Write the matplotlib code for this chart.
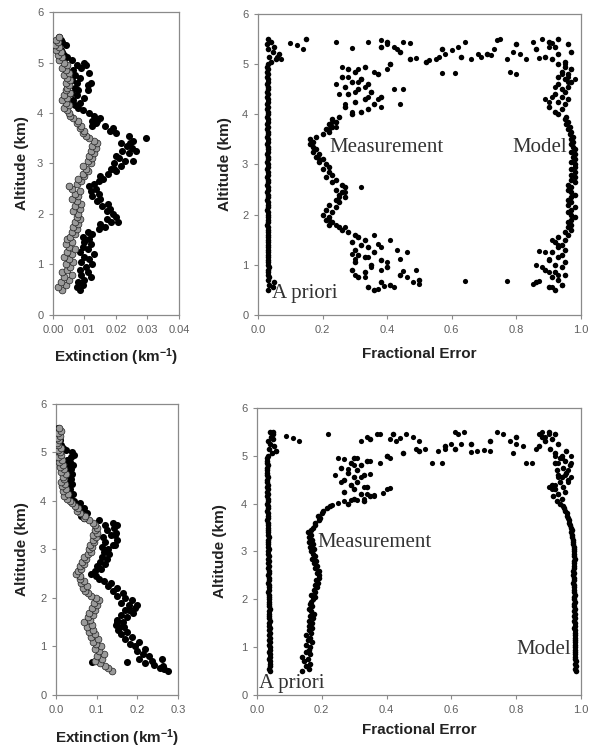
#! /usr/bin/env python

import matplotlib
matplotlib.use('Agg')
from matplotlib import pyplot as plt
from matplotlib.ticker import FormatStrFormatter

# altitude levels (km) shared by every profile
ALT = [0.50, 0.55, 0.60, 0.65, 0.70, 0.75, 0.80, 0.85, 0.90, 0.95,
       1.00, 1.05, 1.10, 1.15, 1.20, 1.25, 1.30, 1.35, 1.40, 1.45,
       1.50, 1.55, 1.60, 1.65, 1.70, 1.75, 1.80, 1.85, 1.90, 1.95,
       2.00, 2.05, 2.10, 2.15, 2.20, 2.25, 2.30, 2.35, 2.40, 2.45,
       2.50, 2.55, 2.60, 2.65, 2.70, 2.75, 2.80, 2.85, 2.90, 2.95,
       3.00, 3.05, 3.10, 3.15, 3.20, 3.25, 3.30, 3.35, 3.40, 3.45,
       3.50, 3.55, 3.60, 3.65, 3.70, 3.75, 3.80, 3.85, 3.90, 3.95,
       4.00, 4.05, 4.10, 4.15, 4.20, 4.25, 4.30, 4.35, 4.40, 4.45,
       4.50, 4.55, 4.60, 4.65, 4.70, 4.75, 4.80, 4.85, 4.90, 4.95,
       5.00, 5.05, 5.10, 5.15, 5.20, 5.25, 5.30, 5.35, 5.40, 5.45,
       5.50]

# ---- case 1 : extinction profiles ----
ext1_dark = [0.0085, 0.0075, 0.0095, 0.0080, 0.0100, 0.0120, 0.0090, 0.0110, 0.0085, 0.0105,
             0.0125, 0.0090, 0.0115, 0.0100, 0.0130, 0.0085, 0.0110, 0.0095, 0.0120, 0.0100,
             0.0115, 0.0095, 0.0125, 0.0110, 0.0145, 0.0165, 0.0150, 0.0185, 0.0170, 0.0200,
             0.0190, 0.0170, 0.0180, 0.0155, 0.0175, 0.0140, 0.0150, 0.0125, 0.0145, 0.0120,
             0.0135, 0.0115, 0.0130, 0.0145, 0.0160, 0.0150, 0.0175, 0.0200, 0.0185, 0.0215,
             0.0195, 0.0230, 0.0210, 0.0200, 0.0240, 0.0220, 0.0250, 0.0235, 0.0215, 0.0255,
             0.0295, 0.0240, 0.0200, 0.0180, 0.0190, 0.0165, 0.0135, 0.0125, 0.0150, 0.0130,
             0.0115, 0.0095, 0.0080, 0.0070, 0.0085, 0.0065, 0.0100, 0.0075, 0.0060, 0.0080,
             0.0070, 0.0110, 0.0075, 0.0060, 0.0085, 0.0070, 0.0115, 0.0065, 0.0090, 0.0075,
             0.0100, 0.0060, 0.0045, 0.0035, 0.0030, 0.0025, 0.0020, 0.0040, 0.0030, 0.0025,
             0.0020]
ext1_light = [0.0030, 0.0015, 0.0040, 0.0025, 0.0050, 0.0035, 0.0060, 0.0030, 0.0045, 0.0055,
              0.0040, 0.0065, 0.0050, 0.0035, 0.0060, 0.0045, 0.0070, 0.0050, 0.0040, 0.0060,
              0.0045, 0.0055, 0.0070, 0.0060, 0.0075, 0.0065, 0.0080, 0.0070, 0.0085, 0.0075,
              0.0080, 0.0065, 0.0085, 0.0070, 0.0090, 0.0075, 0.0060, 0.0080, 0.0070, 0.0085,
              0.0060, 0.0050, 0.0075, 0.0090, 0.0080, 0.0100, 0.0095, 0.0110, 0.0105, 0.0095,
              0.0120, 0.0110, 0.0125, 0.0115, 0.0130, 0.0120, 0.0135, 0.0125, 0.0140, 0.0130,
              0.0115, 0.0105, 0.0095, 0.0100, 0.0085, 0.0090, 0.0075, 0.0080, 0.0065, 0.0055,
              0.0050, 0.0045, 0.0035, 0.0050, 0.0040, 0.0030, 0.0045, 0.0035, 0.0055, 0.0040,
              0.0045, 0.0050, 0.0040, 0.0055, 0.0045, 0.0035, 0.0050, 0.0040, 0.0030, 0.0045,
              0.0035, 0.0020, 0.0030, 0.0015, 0.0025, 0.0010, 0.0020, 0.0005, 0.0015, 0.0010,
              0.0020]
ext1_dark_x = [0.0265, 0.0255, 0.0245, 0.0120, 0.0110, 0.0105, 0.0140, 0.0125, 0.0205, 0.0195]
ext1_dark_alt = [3.25, 3.05, 3.40, 4.60, 4.45, 4.95, 3.85, 3.75, 1.85, 2.90]

# ---- case 1 : fractional errors ----
apriori1 = [0.032, 0.045, 0.034, 0.050, 0.031, 0.033, 0.030, 0.032, 0.031, 0.033,
            0.031, 0.032, 0.030, 0.032, 0.031, 0.030, 0.032, 0.031, 0.030, 0.032,
            0.031, 0.030, 0.032, 0.031, 0.030, 0.031, 0.029, 0.031, 0.030, 0.031,
            0.030, 0.031, 0.029, 0.030, 0.031, 0.030, 0.029, 0.031, 0.030, 0.029,
            0.030, 0.031, 0.029, 0.030, 0.031, 0.029, 0.030, 0.031, 0.029, 0.030,
            0.031, 0.029, 0.030, 0.031, 0.029, 0.030, 0.031, 0.030, 0.029, 0.030,
            0.031, 0.029, 0.030, 0.031, 0.029, 0.030, 0.029, 0.031, 0.030, 0.029,
            0.030, 0.031, 0.029, 0.030, 0.028, 0.030, 0.031, 0.029, 0.030, 0.029,
            0.030, 0.031, 0.029, 0.030, 0.031, 0.029, 0.030, 0.028, 0.030, 0.029,
            0.030, 0.040, 0.055, 0.035, 0.065, 0.045, 0.030, 0.050, 0.028, 0.040,
            0.030]
meas1 = [0.36, 0.34, 0.41, 0.38, 0.50, 0.31, 0.44, 0.33, 0.29, 0.40,
         0.35, 0.30, 0.38, 0.33, 0.31, 0.36, 0.30, 0.34, 0.32, 0.29,
         0.33, 0.31, 0.30, 0.28, 0.26, 0.25, 0.22, 0.23, 0.21, 0.22,
         0.20, 0.23, 0.21, 0.24, 0.22, 0.25, 0.24, 0.27, 0.25, 0.26,
         0.24, 0.27, 0.26, 0.23, 0.24, 0.21, 0.23, 0.22, 0.20, 0.22,
         0.21, 0.19, 0.20, 0.18, 0.19, 0.17, 0.18, 0.17, 0.16, 0.17,
         0.16, 0.18, 0.20, 0.22, 0.21, 0.23, 0.22, 0.24, 0.23, 0.25,
         0.29, 0.32, 0.34, 0.27, 0.36, 0.30, 0.33, 0.38, 0.28, 0.35,
         0.31, 0.27, 0.34, 0.29, 0.32, 0.26, 0.37, 0.30, 0.28, 0.33,
         0.41, 0.52, 0.47, 0.63, 0.71, 0.44, 0.57, 0.38, 0.80, 0.40,
         0.15]
meas1_x = [0.64, 0.77, 0.50, 0.48, 0.46, 0.42, 0.39, 0.37, 0.45, 0.49,
           0.30, 0.35, 0.40, 0.44, 0.46, 0.43, 0.38, 0.41, 0.37, 0.29,
           0.34, 0.36, 0.31, 0.33, 0.38, 0.30, 0.32, 0.27, 0.25, 0.22,
           0.24, 0.27, 0.21, 0.19, 0.22, 0.24, 0.23,
           0.24, 0.26, 0.28, 0.31, 0.33, 0.35, 0.37, 0.42, 0.45, 0.44,
           0.40, 0.41, 0.36, 0.31, 0.27, 0.25, 0.29, 0.32, 0.34, 0.38, 0.30,
           0.10, 0.12, 0.14, 0.07, 0.06, 0.24, 0.29, 0.34, 0.38, 0.40,
           0.42, 0.45, 0.47, 0.43, 0.49, 0.53, 0.56, 0.58, 0.60, 0.62,
           0.64, 0.66, 0.69, 0.72, 0.74, 0.75, 0.77, 0.79, 0.81, 0.83,
           0.85, 0.87, 0.88, 0.90, 0.91, 0.57, 0.61, 0.78, 0.80, 0.68,
           0.55, 0.73]
meas1_alt = [0.68, 0.68, 0.62, 0.65, 0.75, 0.55, 0.58, 0.52, 0.87, 0.89,
             0.80, 0.95, 1.05, 1.12, 1.25, 1.30, 1.35, 1.50, 1.42, 1.22,
             1.15, 1.60, 1.55, 0.75, 0.90, 1.12, 2.55, 2.45, 2.35, 1.90,
             1.80, 1.75, 2.10, 3.10, 3.70, 3.75, 3.85,
             4.60, 4.95, 4.75, 4.65, 4.55, 4.45, 4.30, 4.50, 4.50, 4.20,
             4.90, 5.00, 4.85, 4.90, 4.20, 4.40, 4.05, 4.70, 4.35, 4.15, 4.45,
             5.42, 5.38, 5.30, 5.10, 5.15, 5.45, 5.32, 5.45, 5.48, 5.40,
             5.35, 5.45, 5.42, 5.30, 5.12, 5.08, 5.15, 5.20, 5.28, 5.35,
             5.45, 5.10, 5.15, 5.18, 5.48, 5.50, 5.10, 5.25, 5.20, 5.10,
             5.45, 5.12, 5.50, 5.35, 5.42, 4.82, 4.82, 4.85, 4.80, 5.20,
             5.10, 5.30]
model1 = [0.92, 0.90, 0.94, 0.86, 0.93, 0.91, 0.95, 0.92, 0.89, 0.94,
          0.92, 0.95, 0.90, 0.93, 0.94, 0.91, 0.95, 0.93, 0.94, 0.92,
          0.95, 0.93, 0.96, 0.95, 0.97, 0.96, 0.97, 0.96, 0.97, 0.98,
          0.97, 0.96, 0.97, 0.98, 0.96, 0.97, 0.96, 0.97, 0.98, 0.97,
          0.96, 0.97, 0.96, 0.98, 0.97, 0.98, 0.97, 0.98, 0.97, 0.98,
          0.98, 0.97, 0.98, 0.975, 0.98, 0.97, 0.98, 0.975, 0.97, 0.975,
          0.97, 0.975, 0.965, 0.97, 0.96, 0.965, 0.955, 0.96, 0.95, 0.955,
          0.93, 0.92, 0.94, 0.90, 0.95, 0.93, 0.96, 0.94, 0.92, 0.95,
          0.94, 0.96, 0.93, 0.97, 0.95, 0.93, 0.96, 0.94, 0.97, 0.95,
          0.93, 0.95, 0.91, 0.89, 0.93, 0.97, 0.86, 0.92, 0.96, 0.90,
          0.93]
model1_x = [0.86, 0.88, 0.89, 0.87, 0.90, 0.85, 0.87, 0.91, 0.94, 0.93,
            0.90, 0.91, 0.93, 0.89, 0.91, 0.90, 0.92, 0.96, 0.94, 0.97,
            0.96, 0.98, 0.95]
model1_alt = [1.00, 0.95, 1.25, 1.28, 1.12, 0.62, 0.68, 0.55, 0.60, 0.80,
              0.85, 1.50, 1.40, 4.30, 4.35, 4.25, 4.55, 4.65, 4.80, 4.90,
              4.75, 4.70, 5.00]

# ---- case 2 : extinction profiles ----
ext2_dark = [0.275, 0.255, 0.262, 0.220, 0.235, 0.205, 0.228, 0.215, 0.200, 0.220,
             0.195, 0.182, 0.205, 0.170, 0.188, 0.160, 0.175, 0.152, 0.168, 0.148,
             0.165, 0.150, 0.175, 0.160, 0.190, 0.170, 0.195, 0.180, 0.160, 0.188,
             0.170, 0.150, 0.165, 0.140, 0.150, 0.128, 0.135, 0.118, 0.105, 0.098,
             0.085, 0.095, 0.110, 0.100, 0.120, 0.108, 0.125, 0.112, 0.130, 0.118,
             0.128, 0.112, 0.140, 0.120, 0.150, 0.115, 0.135, 0.148, 0.125, 0.142,
             0.120, 0.140, 0.105, 0.070, 0.062, 0.075, 0.058, 0.068, 0.050, 0.060,
             0.045, 0.038, 0.030, 0.042, 0.025, 0.035, 0.028, 0.040, 0.030, 0.036,
             0.032, 0.040, 0.027, 0.036, 0.030, 0.042, 0.034, 0.028, 0.038, 0.044,
             0.040, 0.025, 0.018, 0.012, 0.008, 0.010, 0.006, 0.008, 0.004, 0.006,
             0.005]
ext2_light = [0.137, 0.128, 0.120, 0.108, 0.095, 0.112, 0.100, 0.118, 0.105, 0.095,
              0.110, 0.098, 0.090, 0.104, 0.085, 0.096, 0.080, 0.092, 0.075, 0.088,
              0.070, 0.084, 0.078, 0.090, 0.082, 0.095, 0.088, 0.100, 0.094, 0.105,
              0.098, 0.085, 0.078, 0.072, 0.066, 0.075, 0.062, 0.068, 0.058, 0.060,
              0.048, 0.055, 0.062, 0.058, 0.068, 0.064, 0.074, 0.070, 0.078, 0.085,
              0.080, 0.088, 0.084, 0.094, 0.090, 0.098, 0.092, 0.100, 0.095, 0.102,
              0.096, 0.090, 0.080, 0.068, 0.072, 0.060, 0.052, 0.055, 0.046, 0.040,
              0.034, 0.026, 0.020, 0.030, 0.018, 0.025, 0.015, 0.022, 0.012, 0.020,
              0.016, 0.024, 0.012, 0.020, 0.010, 0.018, 0.008, 0.014, 0.006, 0.012,
              0.010, 0.004, 0.012, 0.006, 0.002, 0.008, 0.003, 0.010, 0.005, 0.012,
              0.008]
ext2_dark_x = [0.260, 0.175, 0.088, 0.265, 0.240, 0.150, 0.155, 0.200, 0.180, 0.145,
               0.150, 0.145]
ext2_dark_alt = [0.75, 0.68, 0.68, 0.53, 0.62, 1.50, 1.40, 1.85, 1.75, 3.30,
                 3.50, 3.10]

# ---- case 2 : fractional errors ----
apriori2 = [0.040, 0.038, 0.041, 0.039, 0.040, 0.038, 0.041, 0.039, 0.038, 0.040,
            0.039, 0.038, 0.040, 0.037, 0.039, 0.038, 0.040, 0.037, 0.039, 0.038,
            0.037, 0.039, 0.038, 0.036, 0.038, 0.037, 0.039, 0.036, 0.038, 0.037,
            0.036, 0.038, 0.037, 0.035, 0.037, 0.036, 0.038, 0.035, 0.037, 0.036,
            0.035, 0.037, 0.036, 0.034, 0.036, 0.035, 0.037, 0.034, 0.036, 0.035,
            0.034, 0.036, 0.035, 0.033, 0.035, 0.034, 0.036, 0.033, 0.035, 0.034,
            0.033, 0.035, 0.034, 0.032, 0.034, 0.033, 0.035, 0.032, 0.034, 0.033,
            0.032, 0.034, 0.033, 0.031, 0.033, 0.032, 0.034, 0.031, 0.033, 0.032,
            0.031, 0.033, 0.032, 0.030, 0.032, 0.031, 0.033, 0.030, 0.032, 0.031,
            0.033, 0.045, 0.060, 0.038, 0.052, 0.040, 0.035, 0.048, 0.042, 0.050,
            0.040]
meas2 = [0.140, 0.160, 0.150, 0.165, 0.145, 0.158, 0.140, 0.165, 0.150, 0.160,
         0.165, 0.150, 0.170, 0.158, 0.165, 0.152, 0.168, 0.160, 0.170, 0.162,
         0.170, 0.160, 0.172, 0.165, 0.175, 0.168, 0.160, 0.170, 0.165, 0.168,
         0.172, 0.178, 0.168, 0.180, 0.175, 0.185, 0.180, 0.188, 0.182, 0.190,
         0.192, 0.185, 0.190, 0.178, 0.185, 0.175, 0.182, 0.170, 0.180, 0.172,
         0.168, 0.175, 0.165, 0.172, 0.160, 0.170, 0.162, 0.168, 0.158, 0.166,
         0.172, 0.180, 0.178, 0.190, 0.195, 0.188, 0.200, 0.205, 0.215, 0.225,
         0.280, 0.330, 0.300, 0.350, 0.320, 0.270, 0.300, 0.340, 0.290, 0.310,
         0.270, 0.300, 0.330, 0.280, 0.310, 0.260, 0.320, 0.290, 0.340, 0.300,
         0.400, 0.450, 0.500, 0.610, 0.580, 0.660, 0.720, 0.350, 0.800, 0.420,
         0.050]
meas2_x = [0.23, 0.25, 0.27, 0.29, 0.31, 0.33, 0.36, 0.39, 0.40, 0.41,
           0.24, 0.26, 0.28, 0.29, 0.30, 0.32, 0.33, 0.35, 0.31, 0.27,
           0.25, 0.38, 0.40, 0.41, 0.35, 0.34, 0.36,
           0.09, 0.11, 0.13, 0.06, 0.22, 0.32, 0.34, 0.37, 0.38, 0.41,
           0.43, 0.44, 0.46, 0.48, 0.50, 0.49, 0.52, 0.54, 0.57, 0.56,
           0.58, 0.60, 0.61, 0.62, 0.64, 0.63, 0.66, 0.68, 0.70, 0.72,
           0.74, 0.76, 0.78, 0.79, 0.80, 0.82, 0.83, 0.85, 0.86, 0.87,
           0.88, 0.89, 0.90]
meas2_alt = [3.98, 4.02, 4.05, 4.08, 4.08, 4.10, 4.15, 4.22, 4.30, 4.32,
             4.60, 4.45, 4.72, 4.40, 4.80, 4.55, 4.35, 4.62, 4.95, 4.93,
             4.95, 4.85, 5.00, 4.95, 4.90, 4.20, 4.18,
             5.42, 5.38, 5.30, 5.10, 5.45, 5.30, 5.40, 5.45, 5.45, 5.35,
             5.30, 5.38, 5.45, 5.40, 5.30, 5.15, 5.15, 4.85, 4.85, 5.10,
             5.15, 5.25, 5.50, 5.45, 5.50, 5.25, 5.08, 5.10, 5.12, 5.10,
             5.50, 5.45, 5.30, 5.05, 5.25, 5.20, 4.85, 4.85, 5.15, 5.45,
             5.50, 5.40, 5.45]
model2 = [0.985, 0.983, 0.986, 0.982, 0.984, 0.981, 0.983, 0.980, 0.982, 0.981,
          0.982, 0.980, 0.983, 0.981, 0.980, 0.982, 0.980, 0.981, 0.979, 0.981,
          0.980, 0.979, 0.981, 0.978, 0.980, 0.979, 0.981, 0.979, 0.978, 0.980,
          0.979, 0.977, 0.980, 0.978, 0.979, 0.977, 0.978, 0.976, 0.978, 0.977,
          0.975, 0.977, 0.976, 0.978, 0.977, 0.979, 0.978, 0.980, 0.979, 0.978,
          0.979, 0.978, 0.977, 0.976, 0.975, 0.974, 0.972, 0.973, 0.970, 0.971,
          0.968, 0.966, 0.964, 0.962, 0.960, 0.958, 0.956, 0.952, 0.948, 0.944,
          0.935, 0.925, 0.940, 0.915, 0.930, 0.950, 0.920, 0.945, 0.910, 0.935,
          0.960, 0.940, 0.930, 0.955, 0.925, 0.945, 0.965, 0.920, 0.950, 0.935,
          0.940, 0.920, 0.955, 0.905, 0.870, 0.930, 0.890, 0.910, 0.880, 0.920,
          0.900]
model2_x = [0.91, 0.92, 0.93, 0.95, 0.96, 0.97, 0.97, 0.92, 0.94, 0.90,
            0.93, 0.96, 0.97, 0.93]
model2_alt = [4.30, 4.40, 4.20, 4.60, 4.70, 4.85, 5.00, 5.00, 4.95, 4.35,
              4.55, 4.45, 4.55, 4.85]

TICK_COLOR = '#606060'
SPINE_COLOR = '#8a8a8a'


def setup_axes(ax, xlim, xticks, xfmt, xlabel, ylab_x, xlab_y):
    ax.set_xlim(*xlim)
    ax.set_ylim(0, 6)
    ax.set_xticks(xticks)
    ax.set_yticks([0, 1, 2, 3, 4, 5, 6])
    ax.xaxis.set_major_formatter(FormatStrFormatter(xfmt))
    for sp in ax.spines.values():
        sp.set_color(SPINE_COLOR)
        sp.set_linewidth(0.9)
    ax.tick_params(direction='out', length=3, width=0.8, color=SPINE_COLOR,
                   labelcolor=TICK_COLOR, labelsize=8, pad=4)
    ax.set_ylabel('Altitude (km)', fontsize=11, fontweight='bold',
                  color='#222222', va='center', ha='center')
    ax.set_xlabel(xlabel, fontsize=11, fontweight='bold', color='#222222',
                  va='center', ha='center')
    ax.yaxis.set_label_coords(ylab_x, 0.5)
    ax.xaxis.set_label_coords(0.5, xlab_y)


def dark_dots(ax, x, y, s=26):
    ax.scatter(x, y, s=s, c='black', linewidths=0, zorder=3)


def light_dots(ax, x, y, s=24):
    ax.scatter(x, y, s=s, c='#9a9a9a', edgecolors='#1e1e1e',
               linewidths=0.5, zorder=4)


def error_panel(ax, apriori, meas, meas_x, meas_alt, model, model_x, model_alt):
    for vals in (apriori, meas, model):
        dark_dots(ax, vals, ALT, s=16)
    dark_dots(ax, meas_x, meas_alt, s=14)
    dark_dots(ax, model_x, model_alt, s=14)


def main():
    plt.rcParams['font.family'] = ['Liberation Sans', 'DejaVu Sans']
    plt.rcParams['mathtext.fontset'] = 'custom'
    plt.rcParams['mathtext.rm'] = 'Liberation Sans:bold'
    plt.rcParams['mathtext.bf'] = 'Liberation Sans:bold'
    plt.rcParams['mathtext.default'] = 'bf'

    fig = plt.figure(figsize=(5.92, 7.55), dpi=100)
    ext_label = r'Extinction (km$^{-1}$)'
    note = dict(family=['Liberation Serif', 'DejaVu Serif'], fontsize=15,
                color='#333333', va='center', ha='left', zorder=5)

    # top left: extinction, case 1
    ax = fig.add_axes([0.0895, 0.5828, 0.2128, 0.4013])
    dark_dots(ax, ext1_dark, ALT)
    dark_dots(ax, ext1_dark_x, ext1_dark_alt)
    light_dots(ax, ext1_light, ALT)
    setup_axes(ax, (0, 0.04), [0, 0.01, 0.02, 0.03, 0.04], '%.2f',
               ext_label, -0.246, -0.139)

    # top right: fractional error, case 1
    ax = fig.add_axes([0.4358, 0.5828, 0.5456, 0.3987])
    error_panel(ax, apriori1, meas1, meas1_x, meas1_alt,
                model1, model1_x, model1_alt)
    setup_axes(ax, (0, 1), [0, 0.2, 0.4, 0.6, 0.8, 1.0], '%.1f',
               'Fractional Error', -0.102, -0.13)
    ax.text(0.22, 3.33, 'Measurement', **note)
    ax.text(0.787, 3.33, 'Model', **note)
    ax.text(0.044, 0.42, 'A priori', **note)

    # bottom left: extinction, case 2
    ax = fig.add_axes([0.0946, 0.0795, 0.2061, 0.3854])
    dark_dots(ax, ext2_dark, ALT)
    dark_dots(ax, ext2_dark_x, ext2_dark_alt)
    light_dots(ax, ext2_light, ALT)
    setup_axes(ax, (0, 0.3), [0, 0.1, 0.2, 0.3], '%.1f',
               ext_label, -0.281, -0.148)

    # bottom right: fractional error, case 2
    ax = fig.add_axes([0.4341, 0.0795, 0.5473, 0.3801])
    error_panel(ax, apriori2, meas2, meas2_x, meas2_alt,
                model2, model2_x, model2_alt)
    setup_axes(ax, (0, 1), [0, 0.2, 0.4, 0.6, 0.8, 1.0], '%.1f',
               'Fractional Error', -0.114, -0.122)
    ax.text(0.187, 3.18, 'Measurement', **note)
    ax.text(0.80, 0.96, 'Model', **note)
    ax.text(0.005, 0.25, 'A priori', **note)

    fig.savefig('out.png', dpi=100)
    return 0


if __name__ == '__main__':
    exit(main())
